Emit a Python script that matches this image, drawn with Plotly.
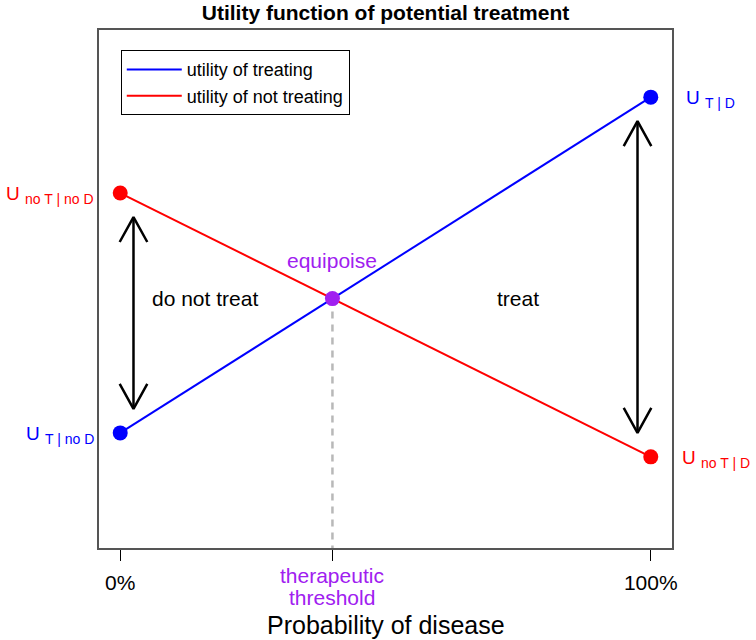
import plotly.graph_objects as go

# probabilities of disease (0 .. 1) and utilities at the two ends
prob = [0, 1]
u_treat = [0.2, 0.9]       # U T|noD -> U T|D
u_no_treat = [0.7, 0.15]   # U noT|noD -> U noT|D

# therapeutic threshold = where the two lines cross
thr = (u_no_treat[0] - u_treat[0]) / ((u_treat[1] - u_treat[0]) - (u_no_treat[1] - u_no_treat[0]))
equip = u_treat[0] + (u_treat[1] - u_treat[0]) * thr

# double-headed arrows: x, y_top, y_bottom
arrow_x = [0.025, 0.975]
arrow_top = [0.65, 0.85]
arrow_bot = [0.25, 0.20]

tick_vals = [0, thr, 1]
tick_text = ["0%", "", "100%"]

font = "Liberation Sans, Arial, sans-serif"
purple = "#A020F0"


def u_label(sub):
    return 'U <sub><span style="font-size:14px">' + sub + '</span></sub>'


fig = go.Figure()

fig.add_trace(go.Scatter(x=prob, y=u_treat, mode="lines", line=dict(color="blue", width=2),
                         name="utility of treating"))
fig.add_trace(go.Scatter(x=prob, y=u_no_treat, mode="lines", line=dict(color="red", width=2),
                         name="utility of not treating"))

# dashed drop line from equipoise to axis
fig.add_trace(go.Scatter(x=[thr, thr], y=[equip, -0.04], mode="lines",
                         line=dict(color="#B8B8B8", width=2.5, dash="7px,6px"), showlegend=False))

fig.add_trace(go.Scatter(x=prob, y=u_treat, mode="markers", marker=dict(color="blue", size=15),
                         showlegend=False, cliponaxis=False))
fig.add_trace(go.Scatter(x=prob, y=u_no_treat, mode="markers", marker=dict(color="red", size=15),
                         showlegend=False, cliponaxis=False))
fig.add_trace(go.Scatter(x=[thr], y=[equip], mode="markers", marker=dict(color=purple, size=15),
                         showlegend=False))

# arrows with open heads (head size in data units: ~25px long, ~14px half width)
hl, hw = 0.052, 0.026
for ax_, yt, yb in zip(arrow_x, arrow_top, arrow_bot):
    xs = [ax_, ax_, None, ax_ - hw, ax_, ax_ + hw, None, ax_ - hw, ax_, ax_ + hw]
    ys = [yt, yb, None, yt - hl, yt, yt - hl, None, yb + hl, yb, yb + hl]
    fig.add_trace(go.Scatter(x=xs, y=ys, mode="lines", line=dict(color="black", width=2.5),
                             showlegend=False))

annos = [
    dict(x=0.16, y=equip, text="do not treat", font=dict(size=21, color="black")),
    dict(x=0.75, y=equip, text="treat", font=dict(size=21, color="black")),
    dict(x=thr, y=equip, text="equipoise", yshift=38, font=dict(size=21, color=purple)),
    dict(x=-0.04, y=u_no_treat[0], text=u_label("no T | no D"), xanchor="right", xshift=-3, yshift=-2,
         font=dict(size=19, color="red")),
    dict(x=-0.04, y=u_treat[0], text=u_label("T | no D"), xanchor="right", xshift=-3, yshift=-2,
         font=dict(size=19, color="blue")),
    dict(x=1.04, y=u_treat[1], text=u_label("T | D"), xanchor="left", xshift=12, yshift=-2,
         font=dict(size=19, color="blue")),
    dict(x=1.04, y=u_no_treat[1], text=u_label("no T | D"), xanchor="left", xshift=8, yshift=-2,
         font=dict(size=19, color="red")),
    dict(x=thr, y=0, yref="paper", text="therapeutic", yanchor="middle", yshift=-27,
         font=dict(size=21, color=purple)),
    dict(x=thr, y=0, yref="paper", text="threshold", yanchor="middle", yshift=-49,
         font=dict(size=21, color=purple)),
    dict(x=0.5, y=0, xref="paper", yref="paper", text="Probability of disease", yanchor="middle",
         yshift=-77, font=dict(size=25, color="black")),
]
for a in annos:
    a.setdefault("xref", "x")
    a.setdefault("yref", "y")
    fig.add_annotation(showarrow=False, **a)

fig.update_layout(
    width=756, height=640,
    margin=dict(l=99, r=84, t=30, b=92),
    plot_bgcolor="white", paper_bgcolor="white",
    font=dict(family=font, color="black"),
    title=dict(text="<b>Utility function of potential treatment</b>", x=0.51, xanchor="center",
               y=0.981, yanchor="middle", font=dict(size=21)),
    legend=dict(x=0.038, y=0.961, xanchor="left", yanchor="top", bordercolor="black", borderwidth=1,
                font=dict(size=18), bgcolor="white", itemwidth=55, tracegroupgap=0),
    showlegend=True,
)
fig.update_xaxes(range=[-0.04, 1.04], showgrid=False, zeroline=False, showline=True, mirror=True,
                 linecolor="#555555", linewidth=1.5, ticks="outside", ticklen=11, tickcolor="black",
                 tickvals=tick_vals, ticktext=tick_text, tickfont=dict(size=21), ticklabelstandoff=4)
fig.update_yaxes(range=[-0.04, 1.04], showgrid=False, zeroline=False, showline=True, mirror=True,
                 linecolor="#555555", linewidth=1.5, showticklabels=False, ticks="")

# page body has a default 8px margin; drop it so the figure sits at the window corner
fig.write_html("out.html", config={"displayModeBar": False},
               post_script="document.body.style.margin='0';")
